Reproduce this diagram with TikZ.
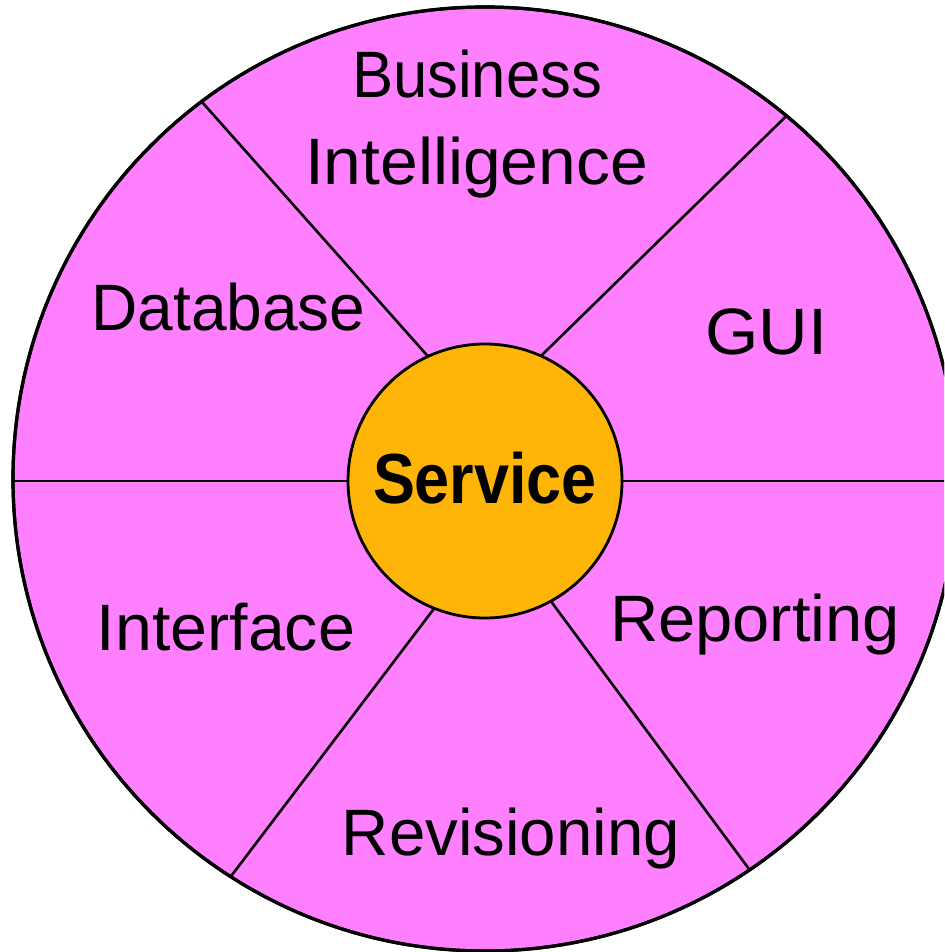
\documentclass[tikz,border=0pt]{standalone}
\usepackage{fontspec}
\setmainfont{Liberation Sans}
\usepackage{graphicx}
\usetikzlibrary{calc}
\definecolor{wheelpink}{RGB}{255,128,255}
\definecolor{hubgold}{RGB}{255,181,8}
\newcommand\fitw[2]{\resizebox{#1}{\height}{#2}}
\tikzset{
  wheelbox/.style={circle, draw=black, line width=3.2pt, fill=wheelpink, inner sep=0pt, minimum size=944pt},
  hubbox/.style={circle, draw=black, line width=2.8pt, fill=hubgold, inner sep=0pt, minimum size=274pt},
  spoke/.style={draw=black, line width=2.6pt},
  lbl/.style={anchor=base, inner sep=0pt, font=\fontsize{65.6}{76}\selectfont},
  hublbl/.style={anchor=base, inner sep=0pt, font=\fontsize{71}{80}\selectfont\bfseries}
}
\begin{document}
\begin{tikzpicture}[x=1pt, y=-1pt]
\useasboundingbox (0,0) rectangle (944,952);
\clip (0,0) rectangle (944,952);
% outer wheel
\node[wheelbox] (wheel) at (485,479) {};
% hub position
\coordinate (hc) at (485,481);
% outer spoke ends
\coordinate (o1) at ($(wheel.center)+(-126.9:472)$);
\coordinate (o2) at ($(wheel.center)+(-50.3:472)$);
\coordinate (o3) at ($(wheel.center)+(55.9:472)$);
\coordinate (o4) at ($(wheel.center)+(122.6:472)$);
\coordinate (o5) at (13,481);
\coordinate (o6) at (960,481);
% inner spoke ends (under the hub)
\coordinate (i1) at (425,353);
\coordinate (i2) at (545,352);
\coordinate (i3) at (550,600);
\coordinate (i4) at (436,606);
% spokes
\draw[spoke] (o1) -- ($(o1)!1.06!(i1)$);
\draw[spoke] (o2) -- ($(o2)!1.06!(i2)$);
\draw[spoke] (o3) -- ($(o3)!1.06!(i3)$);
\draw[spoke] (o4) -- ($(o4)!1.06!(i4)$);
\draw[spoke] (o5) -- (hc);
\draw[spoke] (hc) -- (o6);
% redraw outer border over spoke ends
\draw[line width=3.2pt] (wheel.center) circle[radius=472];
% hub
\node[hubbox] (hub) at (hc) {};
\node[hublbl] (svc) at (485,503) {\fitw{224pt}{Service}};
% segment labels
\node[lbl] (bus) at (477,98) {\fitw{250pt}{Business}};
\node[lbl] (int) at (476.5,185) {\fitw{343pt}{Intelligence}};
\node[lbl] (db) at (228.5,330) {\fitw{274pt}{Database}};
\node[lbl] (gui) at (766.5,354) {\fitw{122pt}{GUI}};
\node[lbl] (ifc) at (226,650) {\fitw{258pt}{Interface}};
\node[lbl] (rep) at (755,641) {\fitw{290pt}{Reporting}};
\node[lbl] (rev) at (511,855) {\fitw{338pt}{Revisioning}};
\end{tikzpicture}
\end{document}
